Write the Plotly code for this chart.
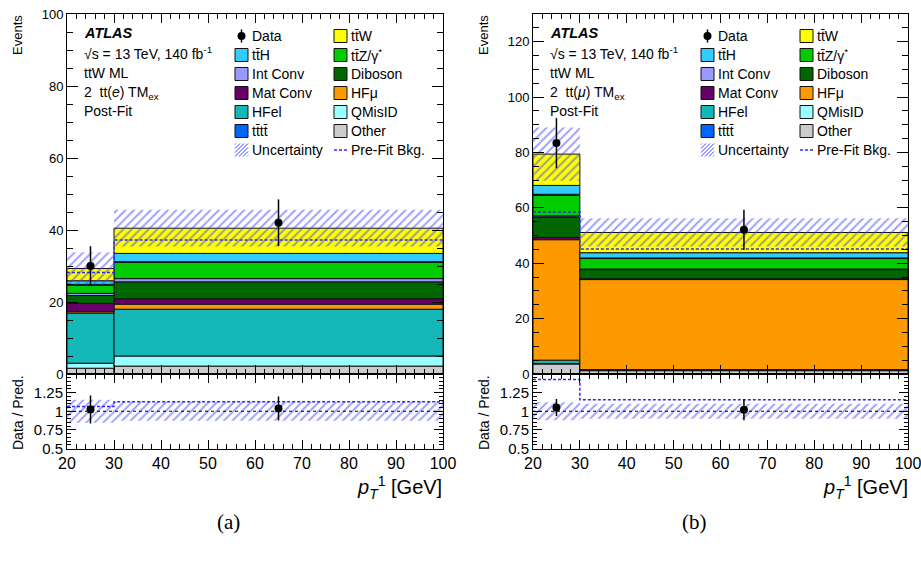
import plotly.graph_objects as go

W, H = 921, 569

# ---------------- data ----------------
bin_edges = [20, 30, 100]
tick_x = [20, 30, 40, 50, 60, 70, 80, 90, 100]

sample_names = ["Other", "QMisID", "HFel", "HFμ", "Mat Conv", "Diboson",
                "Int Conv", "tt̄Z/γ*", "tt̄tt̄", "tt̄H", "tt̄W"]
sample_colors = ["#cccccc", "#99ffff", "#14b8b8", "#ff9900", "#660066", "#006600",
                 "#9999ff", "#00cc00", "#0066ff", "#33ccff", "#ffff00"]

# panel (a): tt(e) TMex, post-fit yields per bin (stack order bottom -> top)
a_other = [1.6, 2.2]
a_qmisid = [1.4, 2.8]
a_hfel = [13.9, 13.0]
a_hfmu = [0.4, 1.4]
a_matconv = [2.3, 1.5]
a_diboson = [2.2, 4.7]
a_intconv = [0.6, 0.9]
a_ttz = [2.3, 4.5]
a_tttt = [0.2, 0.2]
a_tth = [1.0, 2.3]
a_ttw = [3.4, 7.0]
a_unc = [4.5, 5.1]
a_prefit = [28.2, 37.2]
a_data = [30.0, 42.0]
a_data_err = [5.5, 6.5]

# panel (b): tt(mu) TMex
b_other = [3.6, 1.2]
b_qmisid = [0.2, 0.1]
b_hfel = [1.2, 0.3]
b_hfmu = [43.5, 32.5]
b_matconv = [0.8, 0.3]
b_diboson = [7.4, 3.3]
b_intconv = [0.4, 0.2]
b_ttz = [7.4, 3.8]
b_tttt = [0.4, 0.2]
b_tth = [3.2, 1.9]
b_ttw = [11.3, 7.3]
b_unc = [9.6, 5.1]
b_prefit = [58.5, 45.1]
b_data = [83.4, 52.1]
b_data_err = [9.1, 7.2]

panels = [
    dict(stack=[a_other, a_qmisid, a_hfel, a_hfmu, a_matconv, a_diboson, a_intconv,
                a_ttz, a_tttt, a_tth, a_ttw],
         unc=a_unc, prefit=a_prefit, data=a_data, err=a_data_err,
         ymax=100, yticks=[0, 20, 40, 60, 80, 100], channel="tt(<i>e</i>)",
         ax=("x", "y", "x2", "y2"), x0px=67, caption="(a)"),
    dict(stack=[b_other, b_qmisid, b_hfel, b_hfmu, b_matconv, b_diboson, b_intconv,
                b_ttz, b_tttt, b_tth, b_ttw],
         unc=b_unc, prefit=b_prefit, data=b_data, err=b_data_err,
         ymax=130, yticks=[0, 20, 40, 60, 80, 100, 120], channel="tt(<i>μ</i>)",
         ax=("x3", "y3", "x4", "y4"), x0px=533, caption="(b)"),
]

# ---------------- figure ----------------
FONT = "Liberation Sans, Arial, Helvetica, sans-serif"
HATCH = "#3f3fff"
PREFIT_C = "#2b2bff"

fig = go.Figure()
centers = [(bin_edges[i] + bin_edges[i + 1]) / 2 for i in range(len(bin_edges) - 1)]
widths = [bin_edges[i + 1] - bin_edges[i] for i in range(len(bin_edges) - 1)]


def px(xp):
    return xp / W


def py(yp):
    return 1 - yp / H


shapes = []
annotations = []
hatch_pattern = dict(shape="/", fgcolor=HATCH, bgcolor="rgba(0,0,0,0)",
                     size=6, solidity=0.33, fillmode="overlay")

for p in panels:
    xm, ym, xr, yr = p["ax"]
    nb = len(centers)
    base = [0.0] * nb
    for vals, name, col in zip(p["stack"], sample_names, sample_colors):
        fig.add_trace(go.Bar(x=centers, y=vals, base=list(base), width=widths,
                             marker=dict(color=col, line=dict(color="#111111", width=1)),
                             xaxis=xm, yaxis=ym, showlegend=False, hoverinfo="skip", name=name))
        base = [b + v for b, v in zip(base, vals)]
    total = base
    # uncertainty hatch
    fig.add_trace(go.Bar(x=centers, y=[2 * u for u in p["unc"]],
                         base=[t - u for t, u in zip(total, p["unc"])], width=widths,
                         marker=dict(color="rgba(0,0,0,0)", line=dict(width=0), pattern=hatch_pattern),
                         xaxis=xm, yaxis=ym, showlegend=False, hoverinfo="skip"))
    # pre-fit
    fig.add_trace(go.Scatter(x=bin_edges, y=p["prefit"] + [p["prefit"][-1]], mode="lines",
                             line=dict(shape="hv", color=PREFIT_C, width=1.5, dash="3px,2px"),
                             xaxis=xm, yaxis=ym, showlegend=False, hoverinfo="skip"))
    # data
    fig.add_trace(go.Scatter(x=centers, y=p["data"], mode="markers",
                             marker=dict(color="black", size=8),
                             error_y=dict(type="data", array=p["err"], color="black", thickness=1.5, width=0),
                             xaxis=xm, yaxis=ym, showlegend=False, hoverinfo="skip"))
    # ratio
    rel = [u / t for u, t in zip(p["unc"], total)]
    fig.add_trace(go.Bar(x=centers, y=[2 * r for r in rel], base=[1 - r for r in rel], width=widths,
                         marker=dict(color="rgba(0,0,0,0)", line=dict(width=0), pattern=hatch_pattern),
                         xaxis=xr, yaxis=yr, showlegend=False, hoverinfo="skip"))
    shapes.append(dict(type="line", xref=xr, yref=yr, x0=bin_edges[0], x1=bin_edges[-1], y0=1, y1=1,
                       line=dict(color="black", width=1, dash="3px,3px")))
    pre_ratio = [d / q for d, q in zip(p["data"], p["prefit"])]
    fig.add_trace(go.Scatter(x=bin_edges, y=pre_ratio + [pre_ratio[-1]], mode="lines",
                             line=dict(shape="hv", color=PREFIT_C, width=1.5, dash="3px,2px"),
                             xaxis=xr, yaxis=yr, showlegend=False, hoverinfo="skip", cliponaxis=True))
    fig.add_trace(go.Scatter(x=centers, y=[d / t for d, t in zip(p["data"], total)], mode="markers",
                             marker=dict(color="black", size=8),
                             error_y=dict(type="data", array=[e / t for e, t in zip(p["err"], total)],
                                          color="black", thickness=1.5, width=0),
                             xaxis=xr, yaxis=yr, showlegend=False, hoverinfo="skip"))

    # ---- texts ----
    x0 = p["x0px"]
    lab = dict(xref="paper", yref="paper", showarrow=False, xanchor="left", yanchor="middle",
               font=dict(family=FONT, size=14, color="black"))
    annotations.append(dict(lab, x=px(x0 + 15), y=py(33), text="<b><i>ATLAS</i></b>",
                            font=dict(family=FONT, size=14.5, color="black")))
    annotations.append(dict(lab, x=px(x0 + 15), y=py(53), text="√s = 13 TeV, 140 fb<sup>-1</sup>"))
    annotations.append(dict(lab, x=px(x0 + 15), y=py(73), text="ttW ML"))
    annotations.append(dict(lab, x=px(x0 + 15), y=py(92.5),
                            text="2\u00a0\u00a0" + p["channel"] + " TM<sub>ex</sub>"))
    annotations.append(dict(lab, x=px(x0 + 15), y=py(111), text="Post-Fit"))

    rows = [36, 55, 74, 93, 112, 131, 150]
    col1 = [("Data", "data"), ("tt̄H", sample_colors[9]), ("Int Conv", sample_colors[6]),
            ("Mat Conv", sample_colors[4]), ("HFel", sample_colors[2]), ("tt̄tt̄", sample_colors[8]),
            ("Uncertainty", "hatch")]
    col2 = [("tt̄W", sample_colors[10]), ("tt̄Z/γ<sup>*</sup>", sample_colors[7]),
            ("Diboson", sample_colors[5]), ("HFμ", sample_colors[3]), ("QMisID", sample_colors[1]),
            ("Other", sample_colors[0]), ("Pre-Fit Bkg.", "dash")]
    for cx, col in ((x0 + 168, col1), (x0 + 267, col2)):
        for (txt, kind), ry in zip(col, rows):
            sx0, sx1 = cx, cx + 13
            if kind == "data":
                mx = (sx0 + sx1) / 2
                shapes.append(dict(type="line", xref="paper", yref="paper", x0=px(mx), x1=px(mx),
                                   y0=py(ry - 6.5), y1=py(ry + 6.5), line=dict(color="black", width=1.5)))
                shapes.append(dict(type="circle", xref="paper", yref="paper", x0=px(mx - 4), x1=px(mx + 4),
                                   y0=py(ry - 4), y1=py(ry + 4), fillcolor="black", line=dict(width=0)))
            elif kind == "hatch":
                for k in range(-3, 4):
                    a = sx0 + 4 * k
                    xa, ya = a, ry + 6.5
                    xb, yb = a + 13, ry - 6.5
                    if xa < sx0:
                        ya -= (sx0 - xa); xa = sx0
                    if xb > sx1:
                        yb += (xb - sx1); xb = sx1
                    if xb > xa:
                        shapes.append(dict(type="line", xref="paper", yref="paper", x0=px(xa), y0=py(ya),
                                           x1=px(xb), y1=py(yb), line=dict(color=HATCH, width=1)))
            elif kind == "dash":
                shapes.append(dict(type="line", xref="paper", yref="paper", x0=px(sx0), x1=px(sx1 + 1),
                                   y0=py(ry), y1=py(ry), line=dict(color=PREFIT_C, width=1.5, dash="3px,2px")))
            else:
                shapes.append(dict(type="rect", xref="paper", yref="paper", x0=px(sx0), x1=px(sx1),
                                   y0=py(ry - 6.5), y1=py(ry + 6.5), fillcolor=kind,
                                   line=dict(color="#111111", width=1)))
            annotations.append(dict(lab, x=px(sx1 + 2), y=py(ry), text=txt))

    # axis titles
    annotations.append(dict(xref="paper", yref="paper", x=px(x0 - 49), y=py(13), text="Events",
                            textangle=-90, showarrow=False, xanchor="center", yanchor="top",
                            font=dict(family=FONT, size=13, color="black")))
    annotations.append(dict(xref="paper", yref="paper", x=px(x0 - 49), y=py(413), text="Data / Pred.",
                            textangle=-90, showarrow=False, xanchor="center", yanchor="middle",
                            font=dict(family=FONT, size=14, color="black")))
    annotations.append(dict(xref="paper", yref="paper", x=px(x0 + 377), y=py(487),
                            text="<i>p</i><sub><i>T</i></sub><sup>1</sup> [GeV]",
                            showarrow=False, xanchor="right", yanchor="middle",
                            font=dict(family=FONT, size=20, color="black")))
    annotations.append(dict(xref="paper", yref="paper", x=px(x0 + 161), y=py(522), text=p["caption"],
                            showarrow=False, xanchor="center", yanchor="middle",
                            font=dict(family="Liberation Serif, DejaVu Serif, serif", size=21, color="black")))

# ---------------- axes ----------------
main_dom_y = [1 - 374 / H, 1 - 14 / H]
ratio_dom_y = [1 - 448.5 / H, 1 - 374 / H]
left_dom_x = [67 / W, 443 / W]
right_dom_x = [533 / W, 908 / W]

common = dict(showline=True, linecolor="black", linewidth=1, mirror="allticks", ticks="inside",
              tickcolor="black", showgrid=False, zeroline=False, fixedrange=True, automargin=False,
              ticklabeloverflow="allow")


def xaxis(dom, anchor, labels):
    return dict(common, domain=dom, anchor=anchor, range=[bin_edges[0], bin_edges[-1]],
                tickvals=tick_x, ticklen=9, showticklabels=labels,
                tickfont=dict(family=FONT, size=16, color="black"),
                minor=dict(dtick=2, ticklen=5, ticks="inside", tickcolor="black", showgrid=False))


def yaxis_main(dom, anchor, ymax, ticks):
    return dict(common, domain=dom, anchor=anchor, range=[0, ymax], tickvals=ticks, ticklen=11,
                tickfont=dict(family=FONT, size=13, color="black"),
                minor=dict(dtick=5, tick0=0, ticklen=6, ticks="inside", tickcolor="black", showgrid=False))


def yaxis_ratio(dom, anchor):
    return dict(common, domain=dom, anchor=anchor, range=[0.5, 1.5],
                tickvals=[0.5, 0.75, 1, 1.25], ticktext=["0.5", "0.75", "1", "1.25"], ticklen=9,
                tickfont=dict(family=FONT, size=15, color="black"),
                minor=dict(dtick=0.05, tick0=0.5, ticklen=4, ticks="inside", tickcolor="black", showgrid=False))


fig.update_layout(
    width=W, height=H, margin=dict(l=0, r=0, t=0, b=0, pad=0, autoexpand=False),
    paper_bgcolor="white", plot_bgcolor="white", barmode="overlay", showlegend=False,
    xaxis=xaxis(left_dom_x, "y", False),
    yaxis=yaxis_main(main_dom_y, "x", panels[0]["ymax"], panels[0]["yticks"]),
    xaxis2=xaxis(left_dom_x, "y2", True),
    yaxis2=yaxis_ratio(ratio_dom_y, "x2"),
    xaxis3=xaxis(right_dom_x, "y3", False),
    yaxis3=yaxis_main(main_dom_y, "x3", panels[1]["ymax"], panels[1]["yticks"]),
    xaxis4=xaxis(right_dom_x, "y4", True),
    yaxis4=yaxis_ratio(ratio_dom_y, "x4"),
    shapes=shapes, annotations=annotations,
    font=dict(family=FONT, color="black"),
)

fig.write_html("out.html", config={"displayModeBar": False},
               post_script="document.body.style.margin='0';document.body.style.overflow='hidden';")
